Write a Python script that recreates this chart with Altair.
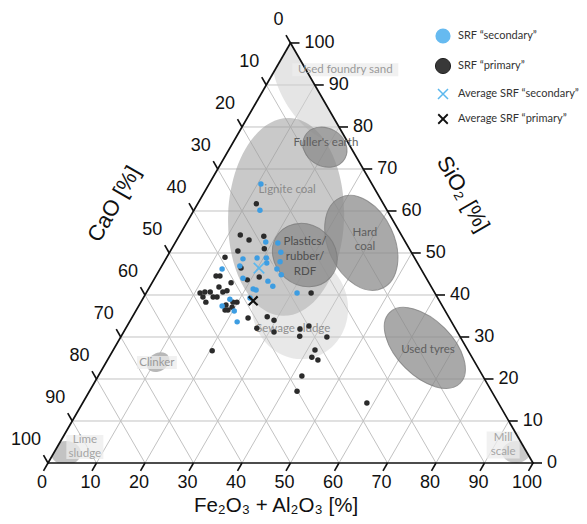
import math
import altair as alt
import pandas as pd

# ---------------- data (Fe2O3+Al2O3, SiO2, CaO in %) ----------------
prim_fe = [12.4, 13.2, 16.3, 14.3, 15.7, 16.4, 15.1, 13.1, 12.0, 11.1,
           12.2, 13.4, 14.3, 19.8, 18.9, 18.3, 19.4, 19.0, 17.9, 16.6,
           12.0, 13.9, 12.5, 14.9, 17.5, 19.1, 12.1, 21.4, 19.3, 34.0,
           24.0, 27.0, 27.8, 29.6, 31.0, 36.0, 37.5, 36.8, 42.5, 20.5,
           41.6, 41.8, 43.4, 42.0, 42.8, 58.6]
prim_si = [44.5, 44.5, 42.9, 41.9, 40.7, 41.0, 39.5, 40.7, 40.7, 40.5,
           39.5, 38.3, 39.5, 38.3, 36.4, 36.4, 37.1, 38.3, 37.6, 46.4,
           49.0, 50.5, 54.3, 53.1, 54.0, 51.0, 61.7, 44.3, 43.6, 40.5,
           34.5, 32.1, 34.8, 34.0, 31.2, 31.9, 32.6, 30.2, 30.0, 26.7,
           26.9, 25.2, 24.5, 20.7, 17.1, 14.3]
prim_ca = [43.1, 42.3, 40.8, 43.8, 43.6, 42.6, 45.4, 46.2, 47.3, 48.4,
           48.3, 48.3, 46.2, 41.9, 44.7, 45.3, 43.5, 42.7, 44.5, 37.0,
           39.0, 35.6, 33.2, 32.0, 28.5, 29.9, 26.2, 34.3, 37.1, 25.5,
           41.5, 40.9, 37.4, 36.4, 37.8, 32.1, 29.9, 33.0, 27.5, 52.8,
           31.5, 33.0, 32.1, 37.3, 40.1, 27.1]

sec_fe = [10.7, 13.6, 18.6, 21.2, 22.9, 15.9, 18.7, 20.6, 21.3, 23.9,
          12.8, 16.1, 24.1, 25.7, 18.2, 23.7, 25.3, 21.6, 22.3, 31.1,
          18.0, 22.0, 17.2, 20.3, 22.2]
sec_si = [66.4, 60.2, 52.6, 52.4, 50.2, 48.6, 48.8, 48.8, 47.6, 47.9,
          46.2, 46.9, 46.2, 44.8, 44.0, 43.3, 42.1, 41.4, 41.2, 40.5,
          39.0, 39.3, 37.4, 36.2, 33.6]
sec_ca = [22.9, 26.2, 28.8, 26.4, 26.9, 35.5, 32.5, 30.6, 31.1, 28.2,
          41.0, 37.0, 29.7, 29.5, 37.8, 33.0, 32.6, 37.0, 36.5, 28.4,
          43.0, 38.7, 45.4, 43.5, 44.2]

avg_name = ["Average SRF “secondary”", "Average SRF “primary”"]
avg_fe = [20.3, 23.0]
avg_si = [46.4, 38.6]
avg_ca = [33.3, 38.4]

# reference material fields (centre composition)
reg_name = ["Used foundry sand", "Lignite coal", "Sewage sludge", "Fuller's earth",
            "Hard coal", "Plastics/rubber/RDF", "Used tyres", "Clinker",
            "Lime sludge", "Mill scale"]
reg_fe = [10.0, 19.8, 33.4, 19.5, 38.4, 28.2, 64.0, 10.7, 2.5, 95.2]
reg_si = [90.0, 58.6, 37.1, 75.2, 52.4, 49.5, 27.4, 24.0, 2.4, 2.6]
reg_ca = [0.0, 21.6, 29.5, 5.3, 9.2, 22.3, 8.6, 65.3, 95.1, 2.2]

# label texts and anchor compositions
lab_text = ["Used foundry sand", "Lignite coal", "Sewage sludge", "Fuller's earth",
            "Hard\ncoal", "Plastics/\nrubber/\nRDF", "Used tyres", "Clinker",
            "Lime\nsludge", "Mill\nscale"]
lab_fe = [14.5, 16.8, 34.6, 19.2, 38.8, 28.5, 64.9, 10.5, 5.7, 91.7]
lab_si = [93.6, 65.0, 31.9, 76.2, 53.1, 49.0, 26.9, 23.9, 3.8, 4.3]
lab_ca = [-8.1, 18.2, 33.5, 4.6, 8.1, 22.5, 8.2, 65.6, 90.5, 4.0]

tick_vals = [0, 10, 20, 30, 40, 50, 60, 70, 80, 90, 100]
legend_labels = ["SRF “secondary”", "SRF “primary”",
                 "Average SRF “secondary”", "Average SRF “primary”"]

# ---------------- layout / style ----------------
W, H = 571, 508
PX = 4.85                      # pixels per ternary unit
XMIN = -40 / PX
XMAX = XMIN + W / PX
YMAX = 455 / PX
YMIN = YMAX - H / PX
S3 = math.sqrt(3) / 2

xs = alt.Scale(domain=[XMIN, XMAX], nice=False, zero=False)
ys = alt.Scale(domain=[YMIN, YMAX], nice=False, zero=False)
XE = alt.X("X:Q", scale=xs, axis=None)
YE = alt.Y("Y:Q", scale=ys, axis=None)

NUM_FONT = "Liberation Sans"
LAB_FONT = "Lato"


def xy(ch, fe="fe", si="si", ca="ca", X="X", Y="Y"):
    tot = f"(datum.{fe}+datum.{si}+datum.{ca})"
    return ch.transform_calculate(**{
        X: f"100*(datum.{fe}+datum.{si}/2)/{tot}",
        Y: f"100*{S3}*datum.{si}/{tot}",
    })


def seg_chart(df, **mk):
    c = alt.Chart(df).mark_rule(**mk)
    c = xy(c, "fe1", "si1", "ca1", "X", "Y")
    c = xy(c, "fe2", "si2", "ca2", "X2", "Y2")
    return c.encode(x=XE, y=YE, x2="X2:Q", y2="Y2:Q")


layers = []

# grid
g = []
for k in range(10, 100, 10):
    g.append(dict(fe1=k, si1=0, ca1=100 - k, fe2=k, si2=100 - k, ca2=0))
    g.append(dict(fe1=100 - k, si1=k, ca1=0, fe2=0, si2=k, ca2=100 - k))
    g.append(dict(fe1=100 - k, si1=0, ca1=k, fe2=0, si2=100 - k, ca2=k))
layers.append(seg_chart(pd.DataFrame(g), color="#c2c2c2", strokeWidth=1))

# reference fields as ellipses
reg_style = {
    "Used foundry sand": dict(rx=62, ry=34, ang=60, fill="#cfcfcf", op=0.55, st=None),
    "Lignite coal": dict(rx=99, ry=58, ang=92, fill="#9c9c9c", op=0.55, st=None),
    "Sewage sludge": dict(rx=52, ry=48, ang=80, fill="#c9c9c9", op=0.42, st=None),
    "Fuller's earth": dict(rx=23, ry=19, ang=30, fill="#888888", op=0.72, st="#777777"),
    "Hard coal": dict(rx=50, ry=33, ang=65, fill="#888888", op=0.72, st="#777777"),
    "Plastics/rubber/RDF": dict(rx=34, ry=30, ang=40, fill="#888888", op=0.72, st="#777777"),
    "Used tyres": dict(rx=50, ry=28, ang=45, fill="#888888", op=0.72, st="#777777"),
    "Clinker": dict(rx=12, ry=9, ang=330, fill="#b0b0b0", op=0.9, st=None),
    "Lime sludge": dict(rx=15, ry=12, ang=0, fill="#bdbdbd", op=0.9, st=None),
    "Mill scale": dict(rx=14, ry=11, ang=0, fill="#c4c4c4", op=0.9, st=None),
}
for i, nm in enumerate(reg_name):
    s = reg_style[nm]
    r = s["ry"] / s["rx"]
    path = f"M-1,0A1,{r:.4f} 0 1,0 1,0A1,{r:.4f} 0 1,0 -1,0Z"
    mk = dict(shape=path, size=(2 * s["rx"]) ** 2, angle=s["ang"], filled=True,
              fill=s["fill"], color=s["fill"], fillOpacity=s["op"], opacity=1)
    if s["st"]:
        mk.update(stroke=s["st"], strokeWidth=1, strokeOpacity=0.7)
    else:
        mk.update(strokeWidth=0)
    df = pd.DataFrame({"fe": [reg_fe[i]], "si": [reg_si[i]], "ca": [reg_ca[i]], "name": [nm]})
    layers.append(xy(alt.Chart(df).mark_point(**mk)).encode(x=XE, y=YE))

# white mask outside the triangle (clips the fields)
xa, xb = XMIN - 1, XMAX + 1
mask_top = pd.DataFrame({"X": [xa, 50, xb],
                         "Y": [xa * 2 * S3, 100 * S3, (100 - xb) * 2 * S3],
                         "Yt": [YMAX + 2] * 3})
mask_bot = pd.DataFrame({"X": [xa, xb], "Y": [0, 0], "Yt": [YMIN - 2] * 2})
for m in (mask_top, mask_bot):
    layers.append(alt.Chart(m).mark_area(color="white", orient="vertical", opacity=1)
                  .encode(x=XE, y=YE, y2="Yt:Q"))

# label boxes
box_style = {"Used foundry sand": (106, 13), "Clinker": (40, 13),
             "Lime\nsludge": (37, 24), "Mill\nscale": (33, 27)}
for i, t in enumerate(lab_text):
    if t in box_style:
        w, h = box_style[t]
        r = h / w
        path = f"M-1,-{r:.4f}L1,-{r:.4f}L1,{r:.4f}L-1,{r:.4f}Z"
        df = pd.DataFrame({"fe": [lab_fe[i]], "si": [lab_si[i]], "ca": [lab_ca[i]]})
        layers.append(xy(alt.Chart(df).mark_point(
            shape=path, size=w * w, filled=True, color="#ececec", fill="#ececec",
            fillOpacity=0.75, strokeWidth=0, opacity=1)).encode(x=XE, y=YE))

# triangle border
border = pd.DataFrame([
    dict(fe1=0, si1=0, ca1=100, fe2=100, si2=0, ca2=0),
    dict(fe1=100, si1=0, ca1=0, fe2=0, si2=100, ca2=0),
    dict(fe1=0, si1=100, ca1=0, fe2=0, si2=0, ca2=100),
])
layers.append(seg_chart(border, color="#111111", strokeWidth=1.7, strokeCap="square"))

# ticks and tick labels
T = 9 / PX
labs = [str(v) for v in tick_vals]
bottom = pd.DataFrame({"fe": tick_vals, "si": [0] * 11, "ca": [100 - v for v in tick_vals], "lab": labs})
left = pd.DataFrame({"fe": [0] * 11, "si": [100 - v for v in tick_vals], "ca": tick_vals, "lab": labs})
right = pd.DataFrame({"fe": [100 - v for v in tick_vals], "si": tick_vals, "ca": [0] * 11, "lab": labs})

for df, ddx, ddy in [(bottom, -T / 2, -T * S3), (left, -T / 2, T * S3), (right, T, 0)]:
    layers.append(xy(alt.Chart(df).mark_rule(color="#111111", strokeWidth=1.6))
                  .transform_calculate(X2=f"datum.X+({ddx})", Y2=f"datum.Y+({ddy})")
                  .encode(x=XE, y=YE, x2="X2:Q", y2="Y2:Q"))

num = dict(font=NUM_FONT, fontSize=18, color="#111111")
layers.append(xy(alt.Chart(bottom).mark_text(align="center", baseline="middle", dx=-6, dy=20, **num))
              .encode(x=XE, y=YE, text="lab:N"))
layers.append(xy(alt.Chart(left).mark_text(align="right", baseline="middle", dx=-7, dy=-23, **num))
              .encode(x=XE, y=YE, text="lab:N"))
layers.append(xy(alt.Chart(right).mark_text(align="left", baseline="middle", dx=14, dy=0, **num))
              .encode(x=XE, y=YE, text="lab:N"))

# axis titles
tit = dict(font=NUM_FONT, fontSize=22, color="#111111")
titles = pd.DataFrame({"t": ["CaO [%]", "SiO₂ [%]", "Fe₂O₃ + Al₂O₃ [%]"]})
layers.append(alt.Chart(titles).transform_filter("datum.t == 'CaO [%]'")
              .mark_text(angle=300, align="center", baseline="middle", **tit)
              .encode(x=alt.value(106), y=alt.value(196), text="t:N"))
layers.append(alt.Chart(titles).transform_filter("indexof(datum.t, 'SiO') == 0")
              .mark_text(angle=60, align="center", baseline="middle", **tit)
              .encode(x=alt.value(455), y=alt.value(186), text="t:N"))
layers.append(alt.Chart(titles).transform_filter("indexof(datum.t, 'Fe') == 0")
              .mark_text(align="center", baseline="alphabetic", font=NUM_FONT, fontSize=20.5, color="#111111")
              .encode(x=alt.value(268), y=alt.value(504), text="t:N"))

# field labels
lab_color = {"Used foundry sand": "#9a9a9a", "Lignite coal": "#8a8a8a", "Sewage sludge": "#8f8f8f",
             "Fuller's earth": "#5e5e5e", "Hard\ncoal": "#5e5e5e", "Plastics/\nrubber/\nRDF": "#4e4e4e",
             "Used tyres": "#5e5e5e", "Clinker": "#9a9a9a", "Lime\nsludge": "#a5a5a5",
             "Mill\nscale": "#a5a5a5"}
lab_lh = {"Hard\ncoal": 14, "Plastics/\nrubber/\nRDF": 15, "Lime\nsludge": 14, "Mill\nscale": 14}
for i, t in enumerate(lab_text):
    df = pd.DataFrame({"fe": [lab_fe[i]], "si": [lab_si[i]], "ca": [lab_ca[i]], "t": [t]})
    mk = dict(font=LAB_FONT, fontSize=11.5, color=lab_color[t], align="center", baseline="middle")
    if "\n" in t:
        n = t.count("\n")
        mk.update(lineBreak="\n", lineHeight=lab_lh[t], dy=-n * lab_lh[t] / 2)
    layers.append(xy(alt.Chart(df).mark_text(**mk)).encode(x=XE, y=YE, text="t:N"))

# samples
prim = pd.DataFrame({"fe": prim_fe, "si": prim_si, "ca": prim_ca})
sec = pd.DataFrame({"fe": sec_fe, "si": sec_si, "ca": sec_ca})
layers.append(xy(alt.Chart(prim).mark_circle(size=30, color="#2b2b2b", opacity=1)).encode(x=XE, y=YE))
layers.append(xy(alt.Chart(sec).mark_circle(size=30, color="#3d9de2", opacity=1)).encode(x=XE, y=YE))

XPATH = "M-1,-1L1,1M-1,1L1,-1"
avg = pd.DataFrame({"fe": avg_fe, "si": avg_si, "ca": avg_ca, "name": avg_name})
layers.append(xy(alt.Chart(avg).transform_filter(f"datum.name == '{avg_name[0]}'")
                 .mark_point(shape=XPATH, size=110, filled=False, color="#5cb8ee", strokeWidth=1.7, opacity=1))
              .encode(x=XE, y=YE))
layers.append(xy(alt.Chart(avg).transform_filter(f"datum.name == '{avg_name[1]}'")
                 .mark_point(shape=XPATH, size=80, filled=False, color="#111111", strokeWidth=2.2, opacity=1))
              .encode(x=XE, y=YE))

# legend (manual)
leg = pd.DataFrame({"lab": legend_labels})
leg_y = [28, 58, 86, 111]
leg_marks = [
    dict(shape="circle", size=230, filled=True, color="#66baf0", opacity=1),
    dict(shape="circle", size=230, filled=True, color="#383838", stroke="#222222", strokeWidth=1, opacity=1),
    dict(shape=XPATH, size=100, filled=False, color="#5cb8ee", strokeWidth=1.5, opacity=1),
    dict(shape=XPATH, size=90, filled=False, color="#111111", strokeWidth=1.8, opacity=1),
]
for i, lab in enumerate(legend_labels):
    base = alt.Chart(leg).transform_filter(f"datum.lab == '{lab}'")
    layers.append(base.mark_point(**leg_marks[i]).encode(x=alt.value(435), y=alt.value(leg_y[i])))
    layers.append(base.mark_text(align="left", baseline="middle", font=LAB_FONT, fontSize=11,
                                 color="#333333")
                  .encode(x=alt.value(450), y=alt.value(leg_y[i]), text="lab:N"))

chart = alt.layer(*layers).properties(
    width=W, height=H, autosize=alt.AutoSizeParams(type="none"), padding=0
).configure_view(stroke=None)

chart.save("out.html", embed_options={"renderer": "svg", "actions": False})
